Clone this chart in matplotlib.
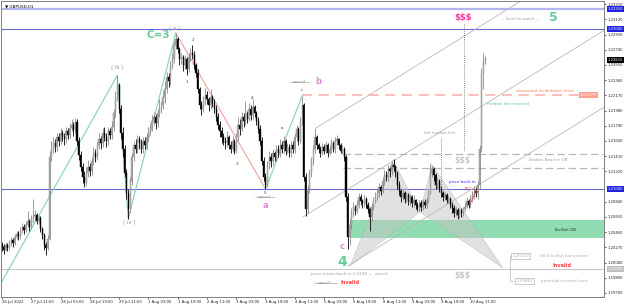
import numpy as np
import matplotlib
matplotlib.use("Agg")
import matplotlib.pyplot as plt
from matplotlib.patches import Rectangle, Polygon

# GBPUSD H1, 26 Jul 19:00 .. 10 Aug 19:00, prices as pips above 1.2000
close_pips = [
    27, 24, 30, 26, 32, 36, 33, 40, 44, 41,
    48, 52, 49, 55, 60, 53, 62, 66, 68, 60,
    64, 50, 42, 30, 26, 38, 140, 150, 158, 152,
    165, 160, 170, 166, 162, 172, 168, 176, 180, 174,
    184, 160, 142, 128, 115, 108, 120, 128, 122, 135,
    145, 140, 155, 162, 158, 170, 165, 160, 172, 168,
    178, 195, 215, 230, 200, 170, 150, 120, 95, 75,
    110, 140, 155, 150, 162, 158, 150, 160, 155, 165,
    172, 178, 185, 190, 182, 195, 200, 205, 215, 225,
    240, 235, 255, 262, 280, 288, 275, 262, 265, 255,
    262, 250, 265, 270, 268, 255, 245, 225, 205, 200,
    210, 218, 212, 205, 215, 208, 200, 190, 180, 172,
    165, 160, 158, 165, 155, 150, 160, 148, 165, 180,
    175, 190, 185, 195, 188, 200, 192, 202, 195, 185,
    175, 160, 135, 115, 105, 130, 140, 135, 145, 140,
    150, 145, 155, 150, 160, 148, 152, 145, 155, 150,
    165, 175, 160, 185, 205, 115, 75, 100, 120, 135,
    150, 165, 155, 150, 145, 152, 148, 155, 145, 150,
    158, 150, 160, 162, 155, 148, 150, 140, 90, 40,
    55, 70, 78, 72, 80, 90, 85, 82, 88, 80,
    75, 65, 78, 85, 90, 95, 102, 98, 110, 118,
    115, 125, 122, 130, 128, 120, 105, 98, 90, 95,
    88, 92, 85, 90, 82, 86, 80, 76, 82, 78,
    84, 80, 85, 95, 120, 125, 118, 105, 110, 100,
    95, 90, 92, 86, 88, 80, 76, 70, 74, 68,
    72, 70, 75, 78, 85, 80, 88, 92, 98, 95,
    105, 150, 245, 260, 264,
]
high_pips = [
    34, 31, 34, 32, 36, 40, 39, 44, 48, 47,
    52, 57, 56, 60, 72, 62, 67, 87, 74, 70,
    68, 66, 52, 45, 34, 42, 148, 160, 165, 162,
    170, 170, 176, 174, 170, 178, 176, 182, 188, 184,
    189, 188, 165, 148, 132, 122, 128, 136, 132, 140,
    152, 150, 160, 170, 166, 176, 178, 170, 178, 176,
    185, 200, 222, 242, 232, 205, 178, 155, 125, 100,
    115, 145, 160, 162, 168, 166, 162, 165, 165, 170,
    178, 182, 192, 196, 194, 200, 212, 210, 222, 235,
    246, 245, 260, 270, 285, 295, 290, 278, 270, 268,
    268, 265, 270, 276, 280, 272, 258, 250, 228, 210,
    216, 226, 222, 215, 225, 218, 212, 205, 195, 185,
    178, 170, 165, 172, 168, 160, 166, 162, 170, 190,
    188, 196, 195, 210, 198, 208, 205, 213, 205, 198,
    190, 180, 165, 140, 120, 135, 148, 145, 150, 148,
    155, 155, 162, 160, 166, 162, 158, 156, 160, 160,
    170, 180, 178, 190, 216, 208, 120, 105, 125, 140,
    155, 176, 168, 158, 154, 158, 156, 160, 158, 155,
    162, 160, 165, 167, 164, 158, 155, 152, 142, 95,
    62, 76, 84, 80, 86, 95, 94, 88, 92, 90,
    84, 78, 82, 90, 96, 100, 108, 105, 115, 124,
    122, 130, 128, 134, 138, 130, 122, 110, 100, 100,
    98, 96, 95, 94, 92, 92, 88, 84, 86, 86,
    88, 88, 90, 100, 132, 130, 128, 120, 115, 112,
    104, 98, 96, 95, 92, 90, 84, 80, 78, 76,
    76, 76, 78, 84, 90, 88, 92, 98, 104, 102,
    110, 155, 251, 270, 266,
]
low_pips = [
    22, 19, 22, 22, 24, 29, 28, 30, 37, 36,
    38, 45, 44, 46, 52, 48, 50, 58, 60, 56,
    56, 46, 38, 24, 18, 24, 36, 135, 145, 146,
    148, 154, 156, 160, 155, 158, 162, 164, 172, 166,
    170, 155, 136, 122, 108, 102, 104, 115, 116, 118,
    130, 134, 136, 150, 150, 152, 160, 152, 155, 162,
    162, 172, 190, 210, 195, 162, 140, 115, 88, 63,
    70, 105, 135, 145, 145, 150, 145, 145, 150, 150,
    160, 168, 172, 180, 175, 178, 190, 195, 200, 208,
    220, 228, 230, 250, 258, 275, 270, 255, 256, 248,
    250, 242, 246, 260, 262, 250, 240, 220, 200, 192,
    196, 205, 206, 198, 200, 202, 195, 185, 175, 165,
    158, 155, 150, 152, 150, 145, 146, 144, 145, 160,
    168, 172, 178, 180, 182, 185, 186, 188, 190, 180,
    170, 155, 130, 110, 100, 102, 125, 128, 130, 135,
    135, 140, 140, 145, 145, 142, 145, 140, 140, 145,
    145, 160, 155, 158, 180, 110, 66, 70, 95, 115,
    130, 145, 150, 145, 140, 142, 144, 145, 140, 142,
    145, 146, 145, 155, 150, 145, 144, 135, 85, 25,
    30, 50, 65, 68, 70, 76, 80, 76, 78, 76,
    70, 48, 60, 74, 82, 86, 90, 92, 95, 105,
    110, 110, 115, 118, 122, 115, 100, 92, 84, 86,
    82, 84, 80, 80, 78, 78, 75, 72, 72, 73,
    74, 76, 76, 82, 92, 115, 110, 100, 100, 96,
    90, 85, 86, 82, 82, 76, 70, 65, 66, 63,
    64, 65, 66, 72, 76, 76, 78, 84, 88, 90,
    88, 100, 146, 225, 256,
]
first_open_pips = 30
base_price = 1.2000

tick_bars = [0, 16, 32, 48, 64, 80, 96, 112, 128, 144, 160, 176, 192, 208, 224, 240, 256]
tick_labels = ["26 Jul 2022", "27 Jul 11:00", "28 Jul 03:00", "28 Jul 19:00", "29 Jul 11:00",
               "1 Aug 03:00", "1 Aug 19:00", "2 Aug 11:00", "3 Aug 03:00", "3 Aug 19:00",
               "4 Aug 11:00", "5 Aug 03:00", "5 Aug 19:00", "8 Aug 11:00", "9 Aug 03:00",
               "9 Aug 19:00", "10 Aug 11:00"]
# 1.21030 sits under the 1.21000 tag on the scale, so it is left out
price_ticks = [1.23310, 1.23120, 1.22930, 1.22740, 1.22550, 1.22360, 1.22170, 1.21980,
               1.21790, 1.21600, 1.21410, 1.21220, 1.20840, 1.20650, 1.20460,
               1.20270, 1.20080, 1.19890, 1.19700]
price_tags = [1.23250, 1.23000, 1.22610, 1.21000, 1.20000]
tag_colors = ["#2020e0", "#2020e0", "#000000", "#2020e0", "#c0c0c0"]

# wave count lines (bar, price)
green_wave = [(-0.5, 1.19825), (63, 1.2242), (69, 1.2063), (95, 1.2295)]
pink_wave = [(95, 1.2295), (144, 1.2100)]
green_wave2 = [(144, 1.2100), (164, 1.2216)]
# pitchfork lines
pitchfork = [((171.6, 1.21763), (283.6, 1.23351)),
             ((164.5, 1.20650), (330.6, 1.23005)),
             ((189.0, 1.20038), (330.6, 1.22046))]
# bat pattern X A B C D
bat_x = [190.2, 213.7, 228.4, 235.0, 273.8]
bat_y = [1.20038, 1.21363, 1.20713, 1.21300, 1.20013]

closes = base_price + np.array(close_pips) / 1e4
highs = base_price + np.array(high_pips) / 1e4
lows = base_price + np.array(low_pips) / 1e4
opens = np.r_[base_price + first_open_pips / 1e4, closes[:-1]]
bars = np.arange(len(closes))

fig = plt.figure(figsize=(6.25, 3.04), dpi=100)
fig.patch.set_facecolor("white")
ax = fig.add_axes([1 / 625, 7 / 304, 603 / 625, 296 / 304])
ax.set_xlim(-0.55, 329.0)
ax.set_ylim(1.19650, 1.23350)

# - horizontal levels
ax.axhline(1.2325, color="#b4b4f0", lw=1.6, zorder=1)
ax.axhline(1.2300, color="#6a6ae0", lw=0.8, zorder=1)
ax.axhline(1.2100, color="#6a6ae0", lw=0.8, zorder=1)
ax.axhline(1.2000, color="#c8c8c8", lw=0.8, zorder=1)
ax.hlines(1.22175, 164, 316, color="#ffb0b0", lw=1.2, linestyles=(0, (6, 4)), zorder=1)
ax.hlines([1.21438, 1.21263], 186.3, 330, color="#b8b8b8", lw=0.9, linestyles=(0, (6, 3)), zorder=1)

# - bullish OB zone
ax.add_patch(Rectangle((191, 1.20388), 140, 0.00225, facecolor="#92dcb2", edgecolor="none", zorder=1))

# - bat pattern
ax.add_patch(Polygon(list(zip(bat_x[:3], bat_y[:3])), closed=True, facecolor="#c4c4c4",
                     edgecolor="#a8a8a8", lw=0.5, alpha=0.5, zorder=1.5))
ax.add_patch(Polygon(list(zip(bat_x[2:], bat_y[2:])), closed=True, facecolor="#c4c4c4",
                     edgecolor="#a8a8a8", lw=0.5, alpha=0.5, zorder=1.5))

# - pitchfork
for (x0, y0), (x1, y1) in pitchfork:
    ax.plot([x0, x1], [y0, y1], color="#b8b8b8", lw=0.6, zorder=1.5)

# - wave lines
ax.plot(*zip(*green_wave), color="#7fd6a8", lw=0.8, zorder=1.6)
ax.plot(*zip(*pink_wave), color="#f4a0a0", lw=0.8, zorder=1.6)
ax.plot(*zip(*green_wave2), color="#7fd6a8", lw=0.8, zorder=1.6)

# - candles
bull = closes >= opens
wick_col = np.where(bull, "#8a8a8a", "#000000")
body_col = np.where(bull, "#b4b4b4", "#000000")
ax.vlines(bars, lows, highs, colors=wick_col, lw=0.6, zorder=2)
body_h = np.maximum(np.abs(closes - opens), 0.00003)
ax.bar(bars, body_h, bottom=np.minimum(opens, closes), width=0.6, color=body_col,
       edgecolor=wick_col, lw=0.3, zorder=2.1)

# - dotted verticals
ax.vlines(240, 1.2092, 1.2165, color="#606060", lw=0.6, linestyles=(0, (1, 1.5)), zorder=2.5)
ax.vlines(252.5, 1.2149, 1.2306, color="#606060", lw=0.6, linestyles=(0, (1, 1.5)), zorder=2.5)
ax.plot([255.7, 257, 258.3, 259.5], [1.20813, 1.20875, 1.20938, 1.21000], color="#ff2020",
        lw=0.9, ls=(0, (1, 1)), zorder=2.6)

# - text annotations
fs = 3.0
small = dict(fontsize=fs, ha="center", va="center", zorder=3)
ax.text(62.8, 1.22525, "( iii )", color="#909090", fontsize=4, ha="center", va="center")
ax.text(69.4, 1.20576, "( iv )", color="#909090", fontsize=4, ha="center", va="center")
ax.text(94, 1.23010, "( v )", color="#909090", fontsize=4, ha="center", va="center")
ax.text(85.2, 1.22925, "C=3", color="#66cc99", fontsize=7.5, fontweight="bold", ha="center", va="center")
for bx, py, lab in [(101.1, 1.22338, "1"), (104.4, 1.22863, "2"), (128.4, 1.21313, "3"),
                    (136.6, 1.22138, "4"), (143.7, 1.20950, "5"), (153, 1.21763, "a"),
                    (163.9, 1.22238, "c")]:
    ax.text(bx, py, lab, color="#404040", **small)
ax.text(143.7, 1.20900, "wave1", color="#909090", **small)
ax.hlines(1.20900, 138.5, 149, color="#909090", lw=0.4)
ax.text(143.7, 1.20788, "a", color="#dd88dd", fontsize=6, fontweight="bold", ha="center", va="center")
ax.text(162.8, 1.22338, "wave2", color="#909090", **small)
ax.hlines(1.22338, 157.5, 168, color="#909090", lw=0.4)
ax.text(172.7, 1.22338, "b", color="#dd88dd", fontsize=6, fontweight="bold", ha="center", va="center")
ax.text(185.8, 1.20276, "c", color="#dd88dd", fontsize=6, fontweight="bold", ha="center", va="center")
ax.text(185.8, 1.20088, "4", color="#66cc99", fontsize=10, fontweight="bold", ha="center", va="center")
ax.text(251.9, 1.23138, "$$$", color="#ff3399", fontsize=6, fontweight="bold", ha="center", va="center")
ax.text(283, 1.23125, "--- level to watch ---", color="#a0a0a0", **small)
ax.text(301.6, 1.23138, "5", color="#66cc99", fontsize=9, fontweight="bold", ha="center", va="center")
ax.text(296.7, 1.22225, "downward invalidation level", color="#ff7f50", **small)
ax.text(320.5, 1.22175, "1.22175", color="white", fontsize=fs, ha="center", va="center", zorder=3,
        bbox=dict(facecolor="#ffa090", edgecolor="none", pad=0.6))
ax.text(276.5, 1.22063, "median line reached", color="#55cc88", **small)
ax.text(239.3, 1.21700, "fail median line", color="#a0a0a0", **small)
ax.text(251.9, 1.21350, "$$$", color="#c8c8c8", fontsize=5.5, fontweight="bold", ha="center", va="center")
ax.text(298.4, 1.21363, "Broken Bearish OB", color="#a0a0a0", **small)
ax.text(251.4, 1.21088, "price back-in", color="#3333ff", **small)
ax.text(254.6, 1.21000, "BC?", color="#ff2020", fontsize=2.6, ha="center", va="center")
ax.text(308.2, 1.20488, "Bullish OB", color="#303030", **small)
ax.text(168.9, 1.19938, "price return back to 1.2100 \u2014  wave1", color="#a0a0a0", fontsize=fs,
        ha="left", va="center")
ax.text(176.5, 1.19825, "wave3", color="#909090", **small)
ax.hlines(1.19825, 170.5, 183, color="#909090", lw=0.4)
ax.text(190.2, 1.19825, "Invalid", color="#ff4040", fontsize=3.6, fontweight="bold", ha="center", va="center")
ax.text(251.9, 1.19913, "$$$", color="#c8c8c8", fontsize=5.5, fontweight="bold", ha="center", va="center")
box = dict(facecolor="white", edgecolor="#b8b8b8", lw=0.5, pad=0.8)
ax.text(283.5, 1.20163, "1.20120", color="#b0b0b0", fontsize=fs, ha="center", va="center", bbox=box, zorder=3)
ax.text(294, 1.20163, "88.6 bullish bat pattern", color="#b0b0b0", fontsize=fs, ha="left", va="center")
ax.text(306, 1.20038, "Invalid", color="#ff4040", fontsize=3.6, fontweight="bold", ha="center", va="center")
ax.text(285.8, 1.19850, "1.19863", color="#b0b0b0", fontsize=fs, ha="center", va="center", bbox=box, zorder=3)
ax.text(294.5, 1.19850, "potential reversal zone", color="#b0b0b0", fontsize=fs, ha="left", va="center")
ax.vlines(277.6, 1.19850, 1.20163, color="#b8b8b8", lw=0.5)
ax.hlines([1.19850, 1.20163], 277.6, 279.5, color="#b8b8b8", lw=0.5)
ax.text(0.006, 0.988, "\u25bc GBPUSD,H1", transform=ax.transAxes, fontsize=fs, ha="left", va="top")

# - axes
ax.yaxis.tick_right()
ax.set_yticks(price_ticks)
ax.set_yticklabels([f"{p:.5f}" for p in price_ticks])
ax.set_xticks(tick_bars)
ax.set_xticklabels(tick_labels, ha="left")
ax.tick_params(axis="both", labelsize=2.7, length=1.5, width=0.5, pad=0.8, colors="#202020")
for s in ax.spines.values():
    s.set_color("#808080")
    s.set_linewidth(0.7)

# - price tags on the scale
tr = ax.get_yaxis_transform()
for p, fc in zip(price_tags, tag_colors):
    ax.text(1.006, p, f"{p:.5f}", transform=tr, color="white", fontsize=2.7, ha="left",
            va="center", clip_on=False, zorder=5, bbox=dict(facecolor=fc, edgecolor="none", pad=0.5))

fig.savefig("out.png", dpi=100, facecolor="white")
